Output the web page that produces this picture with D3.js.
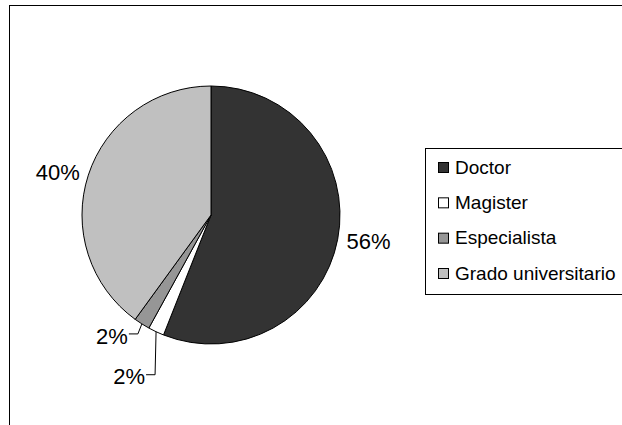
<!DOCTYPE html>
<html>
<head>
<meta charset="utf-8">
<script src="https://cdn.jsdelivr.net/npm/d3@7"></script>
<style>
  body { margin: 0; background: #fff; }
  svg { display: block; font-family: "Liberation Sans", Arial, sans-serif; }
</style>
</head>
<body>
<svg id="chart" width="622" height="425"></svg>
<script>
const categories = ["Doctor", "Magister", "Especialista", "Grado universitario"];
const values = [28, 1, 1, 20];
const labels = ["56%", "2%", "2%", "40%"];
const colors = ["#333333", "#ffffff", "#969696", "#c0c0c0"];

const width = 622;
const height = 425;
const cx = 211;
const cy = 215;
const radius = 129;

const svg = d3.select("#chart");

// outer frame (right/bottom edges fall outside the picture)
svg.append("rect")
  .attr("x", 9.5)
  .attr("y", 5.5)
  .attr("width", 640)
  .attr("height", 440)
  .attr("fill", "#fff")
  .attr("stroke", "#000")
  .attr("stroke-width", 1);

const pie = d3.pie().value(d => d).sort(null);
const arc = d3.arc().innerRadius(0).outerRadius(radius);
const arcs = pie(values);

const g = svg.append("g").attr("transform", `translate(${cx},${cy})`);

g.selectAll("path")
  .data(arcs)
  .enter()
  .append("path")
  .attr("d", arc)
  .attr("fill", (d, i) => colors[i])
  .attr("stroke", "#000")
  .attr("stroke-width", 1)
  .attr("stroke-linejoin", "round");

// point on the rim for a slice's mid angle
const rimPoint = (d, r) => {
  const a = (d.startAngle + d.endAngle) / 2;
  return [Math.sin(a) * r, -Math.cos(a) * r];
};

// big slices: label just outside the rim; small ones pulled out with a leader
const labelOffsets = [null, [-11, 45], [-14, 12], null];

arcs.forEach((d, i) => {
  const mid = (d.startAngle + d.endAngle) / 2;
  if (!labelOffsets[i]) {
    const p = rimPoint(d, radius + 9);
    g.append("text")
      .attr("x", p[0])
      .attr("y", p[1])
      .attr("dy", "0.35em")
      .attr("text-anchor", Math.sin(mid) >= 0 ? "start" : "end")
      .style("font-size", "22px")
      .text(labels[i]);
  } else {
    const edge = rimPoint(d, radius);
    const tx = edge[0] + labelOffsets[i][0];
    const ty = edge[1] + labelOffsets[i][1];
    g.append("polyline")
      .attr("points", [edge, [tx + 10, ty - 2], [tx + 1, ty - 2]].map(p => p.join(",")).join(" "))
      .attr("fill", "none")
      .attr("stroke", "#000")
      .attr("stroke-width", 1);
    g.append("text")
      .attr("x", tx)
      .attr("y", ty)
      .attr("dy", "0.35em")
      .attr("text-anchor", "end")
      .style("font-size", "22px")
      .text(labels[i]);
  }
});

// legend
const legend = svg.append("g").attr("transform", "translate(425,148)");

legend.append("rect")
  .attr("x", 0.5)
  .attr("y", 0.5)
  .attr("width", 220)
  .attr("height", 146)
  .attr("fill", "#fff")
  .attr("stroke", "#000")
  .attr("stroke-width", 1);

const itemY = d3.scalePoint().domain(categories).range([19, 125]);

const items = legend.selectAll(".legend-item")
  .data(categories)
  .enter()
  .append("g")
  .attr("class", "legend-item")
  .attr("transform", d => `translate(0,${itemY(d)})`);

items.append("rect")
  .attr("x", 13.5)
  .attr("y", -4.5)
  .attr("width", 10)
  .attr("height", 10)
  .attr("fill", (d, i) => colors[i])
  .attr("stroke", "#000")
  .attr("stroke-width", 1);

items.append("text")
  .attr("x", 30)
  .attr("y", 0)
  .attr("dy", "0.35em")
  .style("font-size", "19px")
  .text(d => d);
</script>
</body>
</html>
